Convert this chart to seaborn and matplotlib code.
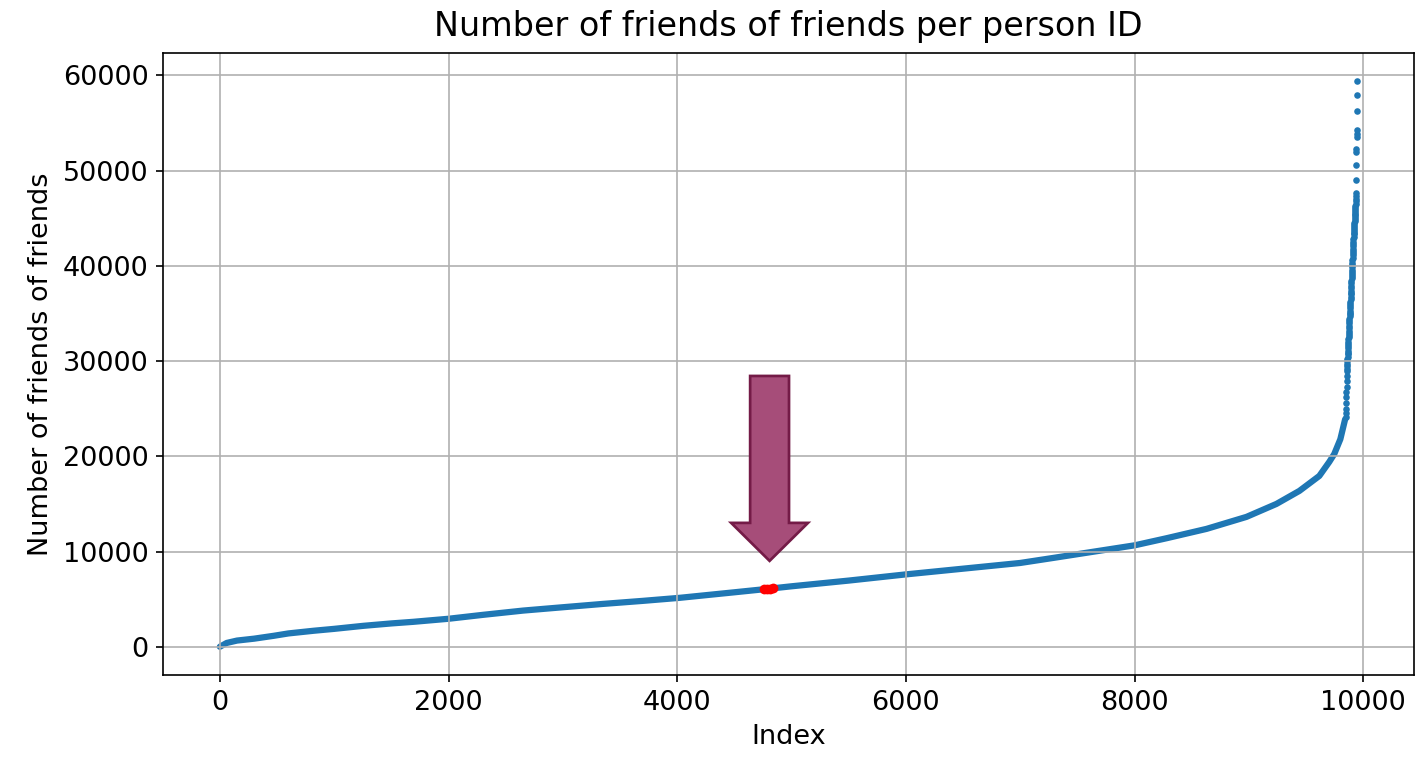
import matplotlib
matplotlib.use("Agg")
import matplotlib.pyplot as plt
import seaborn as sns
import numpy as np

# Sorted friends-of-friends counts: dense body of the distribution (index, count)
body_index = [0, 60, 150, 300, 471, 600, 820, 1000, 1257, 1500, 1693, 2000,
              2300, 2653, 3000, 3351, 3700, 4023, 4500, 4800, 5000, 5500,
              6000, 6500, 7000, 7300, 7650, 8000, 8281, 8630, 8979, 9241,
              9442, 9616, 9703, 9747, 9800, 9842]
body_count = [0, 400, 650, 850, 1150, 1400, 1680, 1880, 2200, 2450, 2620, 2940,
              3350, 3800, 4150, 4500, 4820, 5140, 5720, 6090, 6350, 6950,
              7600, 8200, 8800, 9350, 10000, 10650, 11400, 12380, 13640, 15000,
              16370, 17940, 19410, 20250, 21800, 23900]

# Highest counts, one value per person, ending at the last index
tail_count = [24100, 24500, 25000, 25600, 26200, 26800, 27300, 27900, 28400, 29000,
              29200, 29500, 29700, 30000, 30200, 30400, 30700, 30900, 31100, 31400,
              31600, 31800, 32000, 32300, 32500, 32700, 33000, 33200, 33500, 33700,
              34000, 34200, 34400, 34700, 34900, 35100, 35300, 35600, 35800, 36000,
              36200, 36500, 36700, 37000, 37200, 37400, 37700, 37900, 38200, 38400,
              38700, 38900, 39100, 39400, 39600, 39900, 40100, 40300, 40600, 40800,
              41100, 41300, 41600, 41800, 42100, 42300, 42500, 42800, 43000, 43300,
              43500, 43700, 43900, 44100, 44300, 44500, 44700, 44900, 45100, 45300,
              45500, 45700, 45900, 46100, 46300, 46500, 46800, 47000, 47300, 47700,
              49000, 50580, 52000, 52300, 53520, 53800, 54250, 56240, 57920, 59390]
n_people = 9948
tail_index = list(range(n_people - len(tail_count), n_people))

# Highlighted people around the median
highlight_index = [4760, 4786, 4812, 4838]
highlight_count = [6040, 6070, 6100, 6130]

# Arrow pointing at the highlighted group
arrow_x, arrow_top, arrow_tip = 4808, 28440, 9020

blue = "#1f77b4"

fig, ax = plt.subplots(figsize=(1416 / 150, 760 / 150), dpi=150)
fig.subplots_adjust(left=0.1151, right=0.9986, top=0.9303, bottom=0.1118)

sns.lineplot(x=body_index, y=body_count, ax=ax, color=blue, linewidth=3.0,
             sort=False, errorbar=None, zorder=1, solid_capstyle="round")
sns.scatterplot(x=tail_index, y=tail_count, ax=ax, color=blue, s=10,
                linewidth=0, zorder=1)
sns.scatterplot(x=highlight_index, y=highlight_count, ax=ax, color="red", s=22,
                linewidth=0, zorder=1.2)

ax.arrow(arrow_x, arrow_top, 0, arrow_tip - arrow_top, width=340,
         head_width=672, head_length=3990, length_includes_head=True,
         facecolor="#a64d79", edgecolor="#741b47", linewidth=1.3, zorder=3)

ax.grid(True, color="#b0b0b0", linewidth=0.8)
ax.set_xticks([0, 2000, 4000, 6000, 8000, 10000])
ax.set_yticks([0, 10000, 20000, 30000, 40000, 50000, 60000])
ax.tick_params(labelsize=13)
ax.set_title("Number of friends of friends per person ID", fontsize=16, pad=8)
ax.set_xlabel("Index", fontsize=13)
ax.set_ylabel("Number of friends of friends", fontsize=13)

fig.savefig("out.png", dpi=150)
